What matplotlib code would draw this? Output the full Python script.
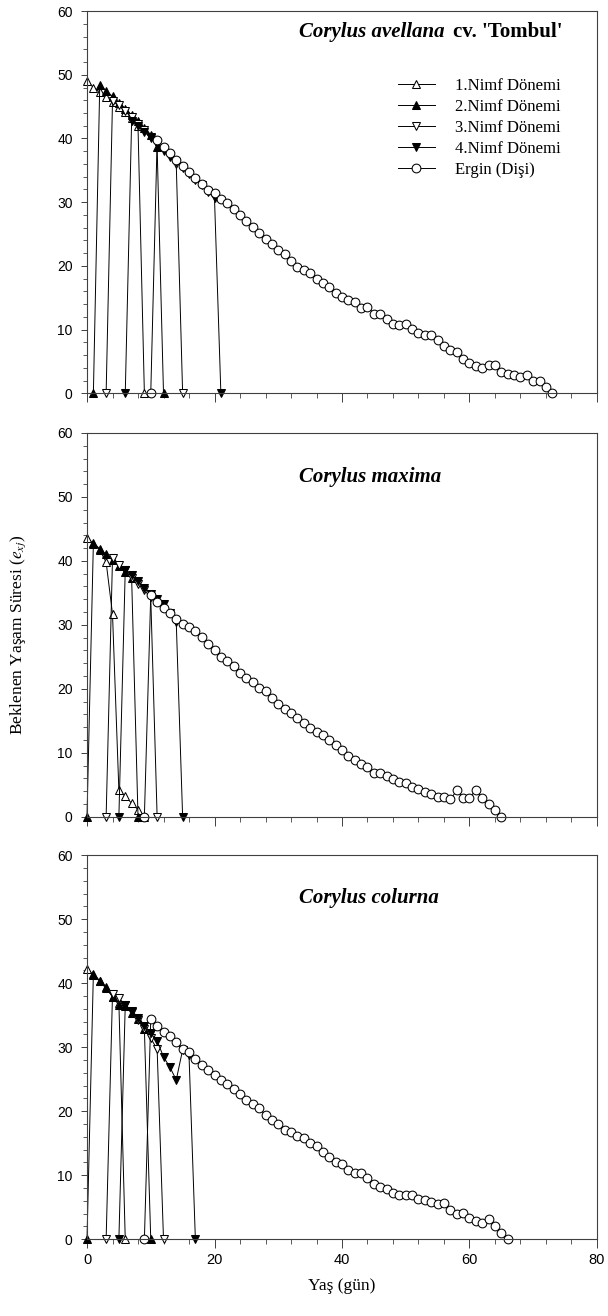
import matplotlib
matplotlib.use('Agg')
import matplotlib.pyplot as plt
from matplotlib.ticker import MultipleLocator
import numpy as np

plt.rcParams['font.family'] = ['Liberation Sans', 'DejaVu Sans']
plt.rcParams['mathtext.fontset'] = 'stix'

# Stage-specific life expectancy e_xj, one value per day from the start day
# (zeros are the day before a stage appears / the day after it ends)
labels = ['1.Nimf Dönemi', '2.Nimf Dönemi', '3.Nimf Dönemi', '4.Nimf Dönemi', 'Ergin (Dişi)']
titles = ['Corylus avellana', 'Corylus maxima', 'Corylus colurna']

# Corylus avellana cv. 'Tombul'
av_start = [0, 1, 3, 6, 10]
av_n1 = [49.1, 48.0, 47.3, 46.5, 45.8, 45.0, 44.1, 43.2, 41.9, 0]
av_n2 = [0, 48.4, 47.5, 46.6, 45.6, 44.7, 43.7, 42.7, 41.7, 40.6, 38.6, 0]
av_n3 = [0, 45.9, 45.2, 44.3, 43.3, 42.3, 41.3, 40.2, 39.2, 38.1, 37.1, 36.0, 0]
av_n4 = [0, 42.8, 41.9, 41.0, 40.1, 39.2, 38.2, 37.3, 36.3, 35.4, 34.4, 33.5, 32.7, 31.6, 30.6, 0]
av_ad = [0, 39.7, 38.7, 37.7, 36.7, 35.7, 34.7, 33.8, 32.8, 31.9, 31.4, 30.5, 29.8,
         28.9, 28.0, 27.1, 26.1, 25.2, 24.2, 23.4, 22.5, 21.9, 20.8,
         19.9, 19.4, 18.9, 17.9, 17.3, 16.7, 15.8, 15.2, 14.6, 14.3,
         13.4, 13.6, 12.5, 12.5, 11.7, 10.9, 10.8, 10.9, 10.1, 9.5,
         9.2, 9.2, 8.4, 7.5, 6.8, 6.5, 5.4, 4.8, 4.3, 4.0,
         4.5, 4.4, 3.3, 3.1, 2.9, 2.5, 2.9, 1.9, 2.0, 1.0, 0]

# Corylus maxima
mx_start = [0, 0, 3, 5, 9]
mx_n1 = [43.6, 42.7, 41.7, 39.8, 31.7, 4.1, 3.2, 2.1, 1.1, 0]
mx_n2 = [0, 42.8, 41.9, 41.0, 40.1, 39.2, 38.3, 37.4, 0]
mx_n3 = [0, 40.4, 39.4, 38.5, 37.3, 36.4, 35.4, 34.3, 0]
mx_n4 = [0, 38.6, 37.8, 36.8, 35.8, 34.8, 34.0, 33.2, 31.8, 30.4, 0]
mx_ad = [0, 34.7, 33.6, 32.6, 31.8, 30.9, 30.2, 29.6, 29.0, 28.1, 27.0,
         26.0, 25.0, 24.4, 23.5, 22.5, 21.7, 21.0, 20.1, 19.6, 18.5,
         17.6, 16.9, 16.2, 15.4, 14.6, 13.8, 13.3, 12.8, 12.0, 11.2,
         10.4, 9.5, 8.9, 8.2, 7.7, 6.8, 6.8, 6.4, 5.9, 5.5,
         5.2, 4.7, 4.4, 3.9, 3.6, 3.1, 3.1, 2.7, 4.1, 3.0,
         3.0, 4.1, 3.0, 2.0, 1.0, 0]

# Corylus colurna
co_start = [0, 0, 3, 5, 9]
co_n1 = [42.3, 41.3, 40.3, 39.2, 37.9, 36.9, 0]
co_n2 = [0, 41.5, 40.4, 39.4, 37.9, 36.6, 36.4, 35.4, 34.4, 32.8, 0]
co_n3 = [0, 38.3, 37.7, 36.6, 35.5, 34.2, 32.8, 31.4, 29.7, 0]
co_n4 = [0, 36.6, 35.6, 34.5, 33.4, 32.2, 31.0, 28.5, 26.9, 24.9, 29.6, 28.8, 0]
co_ad = [0, 34.4, 33.4, 32.4, 31.7, 30.9, 29.8, 29.2, 28.2, 27.2, 26.4,
         25.7, 24.9, 24.3,
         23.5, 22.7, 21.8, 21.2, 20.5, 19.4, 18.7, 18.0, 17.1, 16.8,
         16.1, 15.8, 15.0, 14.5, 13.7, 12.9, 12.0, 11.8, 10.9, 10.3,
         10.4, 9.5, 8.6, 8.1, 7.9, 7.3, 6.9, 6.9, 6.9, 6.3,
         6.1, 5.8, 5.5, 5.6, 4.6, 3.9, 4.1, 3.3, 2.8, 2.6,
         3.1, 2.1, 1.0, 0]

panels = [
    (av_start, [av_n1, av_n2, av_n3, av_n4, av_ad]),
    (mx_start, [mx_n1, mx_n2, mx_n3, mx_n4, mx_ad]),
    (co_start, [co_n1, co_n2, co_n3, co_n4, co_ad]),
]
markers = ['^', '^', 'v', 'v', 'o']
faces = ['white', 'black', 'white', 'black', 'white']
sizes = [5.6, 5.6, 5.6, 5.6, 6.3]

fig = plt.figure(figsize=(6.08, 13.16), dpi=100)
# axes rectangles in figure fractions (top, middle, bottom)
rects = [[0.1431, 0.7011, 0.8388, 0.2905],
         [0.1431, 0.3794, 0.8388, 0.2916],
         [0.1431, 0.0583, 0.8388, 0.2918]]
title_y = [55.9, 52.4, 52.5]

for i, (starts, series) in enumerate(panels):
    ax = fig.add_axes(rects[i])
    for j, vals in enumerate(series):
        days = starts[j] + np.arange(len(vals))
        ax.plot(days, vals, color='black', lw=0.7, marker=markers[j], ms=sizes[j],
                mfc=faces[j], mec='black', mew=0.75, clip_on=False, label=labels[j])
    ax.set_xlim(0, 80)
    ax.set_ylim(0, 60)
    ax.xaxis.set_major_locator(MultipleLocator(20))
    ax.xaxis.set_minor_locator(MultipleLocator(4))
    ax.yaxis.set_major_locator(MultipleLocator(10))
    ax.yaxis.set_minor_locator(MultipleLocator(2))
    ax.tick_params(axis='y', which='major', length=4.3, width=0.7, pad=6, labelsize=10, color='#404040')
    ax.tick_params(axis='y', which='minor', length=3, width=0.6, color='#404040')
    ax.tick_params(axis='x', which='major', length=6.5, width=0.7, pad=3.5, labelsize=10.5, color='#404040')
    ax.tick_params(axis='x', which='minor', length=3.5, width=0.6, color='#404040')
    for s in ax.spines.values():
        s.set_linewidth(0.8)
        s.set_color('#404040')
    if i < 2:
        ax.tick_params(axis='x', labelbottom=False)

    t = ax.text(33.3, title_y[i], titles[i], fontfamily='Liberation Serif', fontsize=15,
                fontweight='bold', fontstyle='italic', va='baseline', ha='left')
    if i == 0:
        # non-italic cultivar name right after the species name
        ax.annotate("cv. 'Tombul'", xy=(1, 0), xycoords=t, xytext=(6, 0),
                    textcoords='offset points', va='bottom', ha='left',
                    fontfamily='Liberation Serif', fontsize=15, fontweight='bold')
        ax.legend(loc='upper left', bbox_to_anchor=(0.61, 0.825), frameon=False,
                  borderpad=0, borderaxespad=0, handlelength=2.2, handletextpad=1.2,
                  labelspacing=0.3, numpoints=1,
                  prop={'family': 'Liberation Serif', 'size': 12})
    if i == 2:
        ax.set_xlabel('Yaş (gün)', fontfamily='Liberation Serif', fontsize=12.5, labelpad=8)

fig.text(0.03, 0.518, r'Beklenen Yaşam Süresi ($e_{xj}$)', rotation=90, va='center', ha='center',
         fontfamily='Liberation Serif', fontsize=12.5)

fig.savefig('out.png', dpi=100)
